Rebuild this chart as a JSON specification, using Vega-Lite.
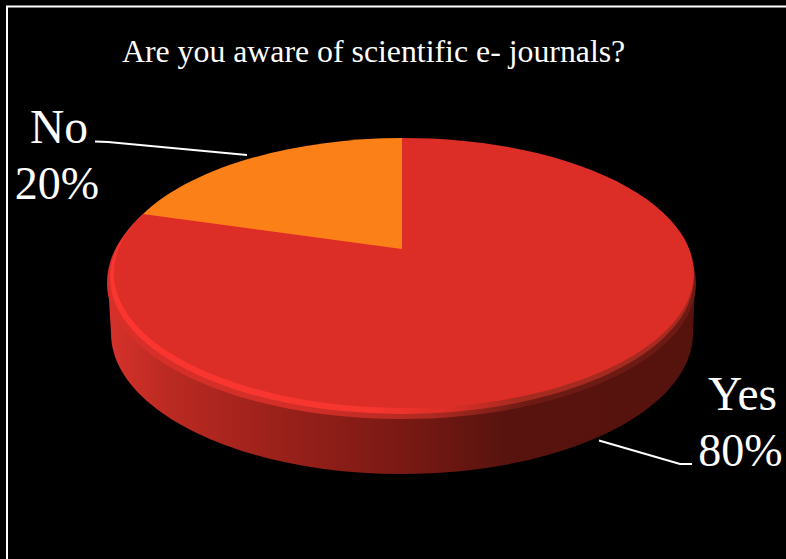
{
  "$schema": "https://vega.github.io/schema/vega-lite/v6.json",
  "width": 786,
  "height": 559,
  "padding": 0,
  "autosize": {"type": "none"},
  "background": "#000000",
  "title": {
    "text": "Are you aware of scientific e- journals?",
    "anchor": "start",
    "frame": "group",
    "dx": 122,
    "dy": 32,
    "offset": -62,
    "baseline": "alphabetic",
    "font": "Liberation Serif",
    "fontSize": 31.8,
    "fontWeight": "normal",
    "color": "#ffffff"
  },
  "datasets": {
    "responses": [
      {"answer": "Yes", "share": 0.8},
      {"answer": "No", "share": 0.2}
    ]
  },
  "data": {"name": "responses"},
  "config": {"view": {"stroke": null}},
  "layer": [
    {
      "data": {"values": [{"element": "frame"}]},
      "mark": {
        "type": "point",
        "size": 4,
        "filled": false,
        "opacity": 1,
        "stroke": "#ffffff",
        "strokeWidth": 2,
        "shape": "M 400 -273 L -386 -273 L -386 290"
      }
    },
    {
      "data": {"values": [{"element": "pie side"}]},
      "mark": {
        "type": "point",
        "size": 4,
        "filled": true,
        "opacity": 1,
        "strokeWidth": 0,
        "shape": "M -285 3.5 L -282 53.5 A 291 141 0 0 0 300 53.5 L 302 3.5 Z",
        "color": {
          "gradient": "linear",
          "x1": 0,
          "y1": 0,
          "x2": 1,
          "y2": 0,
          "stops": [
            {"offset": 0, "color": "#d6322b"},
            {"offset": 0.1, "color": "#bb2a22"},
            {"offset": 0.3, "color": "#99201a"},
            {"offset": 0.5, "color": "#7a1914"},
            {"offset": 0.68, "color": "#58130e"},
            {"offset": 1, "color": "#56120d"}
          ]
        }
      }
    },
    {
      "data": {"values": [{"element": "pie outer bevel"}]},
      "mark": {
        "type": "point",
        "size": 4,
        "filled": true,
        "opacity": 1,
        "strokeWidth": 0,
        "shape": "M -250 -65.5 C -273 -44.5 -286 -21.5 -286 3.5 A 294.5 136 0 0 0 303 3.5 C 303 -21.5 287 -44.5 267 -65.5 Z",
        "color": {
          "gradient": "linear",
          "x1": 0,
          "y1": 0,
          "x2": 1,
          "y2": 0,
          "stops": [
            {"offset": 0, "color": "#d82f29"},
            {"offset": 0.35, "color": "#d22e27"},
            {"offset": 0.55, "color": "#ad2a22"},
            {"offset": 0.72, "color": "#6c1a13"},
            {"offset": 1, "color": "#6c1a13"}
          ]
        }
      }
    },
    {
      "data": {"values": [{"element": "pie inner bevel"}]},
      "mark": {
        "type": "point",
        "size": 4,
        "filled": true,
        "opacity": 1,
        "strokeWidth": 0,
        "shape": "M -250 -65.5 C -270 -46 -283 -25 -283 -2.5 A 292 137 0 0 0 301 -2.5 C 301 -25 285 -46 267 -65.5 Z",
        "color": {
          "gradient": "linear",
          "x1": 0,
          "y1": 0,
          "x2": 1,
          "y2": 0,
          "stops": [
            {"offset": 0, "color": "#fb3530"},
            {"offset": 0.45, "color": "#f6362f"},
            {"offset": 0.58, "color": "#dc2e27"},
            {"offset": 0.7, "color": "#a52a20"},
            {"offset": 1, "color": "#a52a20"}
          ]
        }
      }
    },
    {
      "mark": {"type": "point", "size": 4, "filled": true, "opacity": 1, "strokeWidth": 0},
      "encoding": {
        "color": {
          "field": "answer",
          "type": "nominal",
          "legend": null,
          "scale": {"domain": ["Yes", "No"], "range": ["#dc2e26", "#fc8018"]}
        },
        "shape": {
          "field": "answer",
          "type": "nominal",
          "legend": null,
          "scale": {
            "domain": ["Yes", "No"],
            "range": [
              "M 9 -30.5 L 9 -141.5 A 290 135 0 1 1 -250 -65.5 Z",
              "M 9 -30.5 L -250 -65.5 A 290 135 0 0 1 9 -141.5 Z"
            ]
          }
        }
      }
    },
    {
      "mark": {
        "type": "point",
        "size": 4,
        "filled": false,
        "opacity": 1,
        "stroke": "#ffffff",
        "strokeWidth": 2
      },
      "encoding": {
        "shape": {
          "field": "answer",
          "type": "nominal",
          "legend": null,
          "scale": {
            "domain": ["Yes", "No"],
            "range": [
              "M 206 161 L 287 184.5 L 299 184.5",
              "M -298 -138 L -285 -137.5 L -146 -124.5"
            ]
          }
        }
      }
    },
    {
      "mark": {
        "type": "text",
        "font": "Liberation Serif",
        "fontSize": 47.5,
        "align": "center",
        "baseline": "alphabetic",
        "color": "#ffffff"
      },
      "encoding": {
        "x": {
          "field": "answer",
          "type": "nominal",
          "axis": null,
          "scale": {"type": "point", "domain": ["No", "Yes"], "range": [59, 742.5], "padding": 0}
        },
        "y": {
          "field": "answer",
          "type": "nominal",
          "axis": null,
          "scale": {"type": "point", "domain": ["No", "Yes"], "range": [143, 410], "padding": 0}
        },
        "text": {"field": "answer", "type": "nominal"}
      }
    },
    {
      "mark": {
        "type": "text",
        "font": "Liberation Serif",
        "fontSize": 46,
        "align": "center",
        "baseline": "alphabetic",
        "color": "#ffffff",
        "dx": -2,
        "dy": 56
      },
      "encoding": {
        "x": {"field": "answer", "type": "nominal", "axis": null},
        "y": {"field": "answer", "type": "nominal", "axis": null},
        "text": {"field": "share", "type": "quantitative", "format": ".0%"}
      }
    }
  ],
  "resolve": {"scale": {"shape": "independent", "color": "independent"}}
}
